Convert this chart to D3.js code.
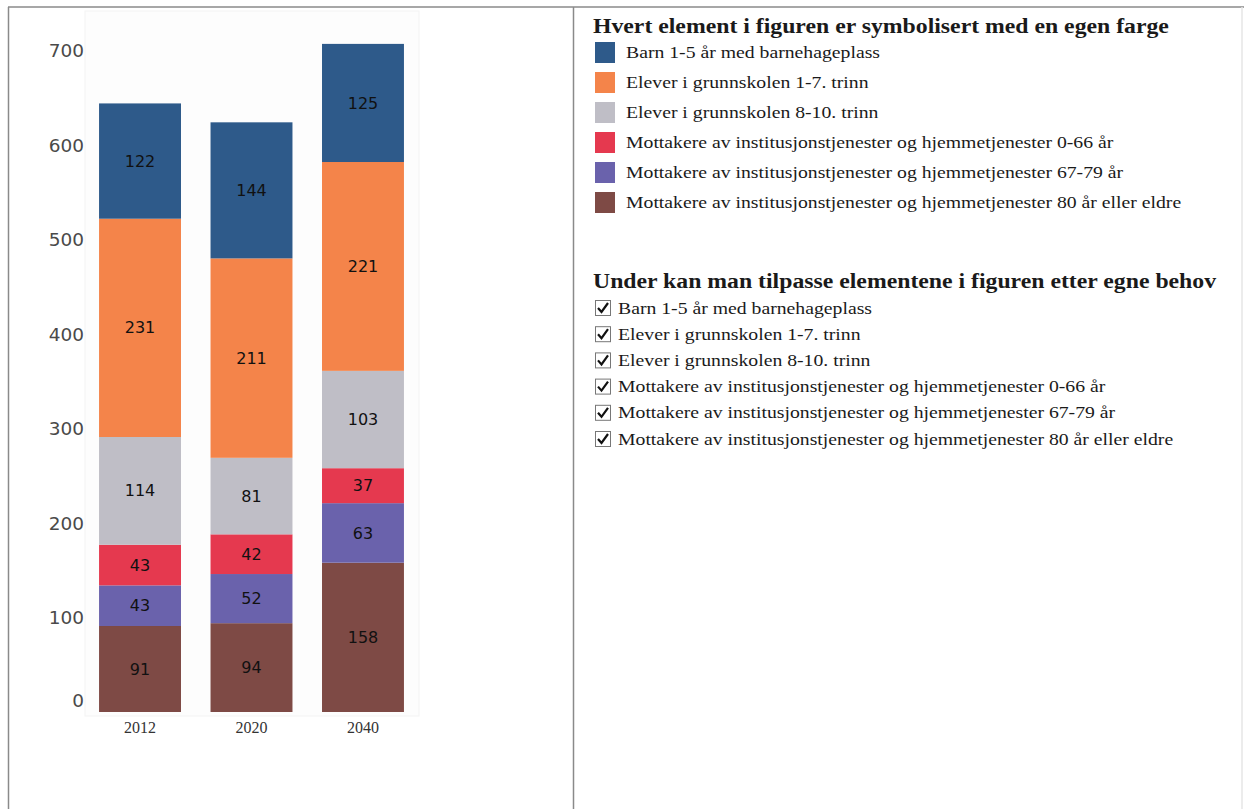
<!DOCTYPE html>
<html>
<head>
<meta charset="utf-8">
<script src="https://cdn.jsdelivr.net/npm/d3@7"></script>
<style>
  body { margin: 0; background: #fff; }
  svg { display: block; }
</style>
</head>
<body>
<svg id="chart" width="1244" height="809"></svg>
<script>
// data
const years = ["2012", "2020", "2040"];
const seriesNames = [
  "Barn 1-5 år med barnehageplass",
  "Elever i grunnskolen 1-7. trinn",
  "Elever i grunnskolen 8-10. trinn",
  "Mottakere av institusjonstjenester og hjemmetjenester 0-66 år",
  "Mottakere av institusjonstjenester og hjemmetjenester 67-79 år",
  "Mottakere av institusjonstjenester og hjemmetjenester 80 år eller eldre"
];
const barn = [122, 144, 125];
const trinn1_7 = [231, 211, 221];
const trinn8_10 = [114, 81, 103];
const mott0_66 = [43, 42, 37];
const mott67_79 = [43, 52, 63];
const mott80 = [91, 94, 158];
const yTicks = [0, 100, 200, 300, 400, 500, 600, 700];
const colors = ["#2e5a8a", "#f4844a", "#bfbec6", "#e5394f", "#6a62ac", "#7e4a45"];

const legendTitle = "Hvert element i figuren er symbolisert med en egen farge";
const checkTitle = "Under kan man tilpasse elementene i figuren etter egne behov";

const allValues = [barn, trinn1_7, trinn8_10, mott0_66, mott67_79, mott80];

// table for d3.stack
const table = years.map((y, i) => {
  const row = { year: y };
  seriesNames.forEach((s, j) => { row[s] = allValues[j][i]; });
  return row;
});

const svg = d3.select('svg#chart');

// frame lines
const frame = svg.append('g')
  .attr('stroke', '#8a8a8a')
  .attr('stroke-width', 1.5)
  .attr('fill', 'none');
frame.append('line').attr('x1', 8).attr('x2', 1244).attr('y1', 7).attr('y2', 7);
frame.append('line').attr('x1', 8.5).attr('x2', 8.5).attr('y1', 7).attr('y2', 809);
frame.append('line').attr('x1', 573.5).attr('x2', 573.5).attr('y1', 7).attr('y2', 809);
frame.append('line').attr('x1', 1242).attr('x2', 1242).attr('y1', 7).attr('y2', 809)
  .attr('stroke', '#e6e6e6');

// faint plot background
svg.append('rect')
  .attr('x', 85).attr('y', 11)
  .attr('width', 334).attr('height', 705)
  .attr('fill', '#fdfdfd')
  .attr('stroke', '#f3f3f3');

const y = d3.scaleLinear()
  .domain([0, 700])
  .range([712, 50.5]);

const x = d3.scaleBand()
  .domain(years)
  .range([84, 419])
  .paddingInner(0.265)
  .paddingOuter(0.135);

// y axis, no line, labels only
const gY = svg.append('g')
  .attr('transform', 'translate(84,0)')
  .call(d3.axisLeft(y).tickValues(yTicks).tickSize(0).tickPadding(0));
gY.select('.domain').remove();
gY.selectAll('text')
  .attr('font-family', '"DejaVu Sans", Verdana, sans-serif')
  .attr('font-size', 18.5)
  .attr('fill', '#4a4a4a')
  .attr('dy', '0.35em');
// the zero label sits a little above the baseline in the original
gY.selectAll('.tick').filter(d => d === 0).select('text').attr('dy', '-0.3em');

// stacked bars
const stack = d3.stack().keys(seriesNames.slice().reverse());
const layers = stack(table);
const colorOf = d3.scaleOrdinal().domain(seriesNames).range(colors);

const gBars = svg.append('g');
const layerG = gBars.selectAll('g.layer')
  .data(layers)
  .enter()
  .append('g')
    .attr('class', 'layer')
    .attr('fill', d => colorOf(d.key));

layerG.selectAll('rect')
  .data(d => d)
  .enter()
  .append('rect')
    .attr('x', d => x(d.data.year))
    .attr('y', d => y(d[1]))
    .attr('width', x.bandwidth())
    .attr('height', d => y(d[0]) - y(d[1]));

layerG.selectAll('text')
  .data(d => d)
  .enter()
  .append('text')
    .attr('x', d => x(d.data.year) + x.bandwidth() / 2)
    .attr('y', d => (y(d[0]) + y(d[1])) / 2)
    .attr('dy', '0.35em')
    .attr('text-anchor', 'middle')
    .attr('font-family', '"DejaVu Sans", Verdana, sans-serif')
    .attr('font-size', 16)
    .attr('fill', '#111')
    .text(d => d[1] - d[0]);

// x axis labels
const gX = svg.append('g')
  .attr('transform', 'translate(0,712)')
  .call(d3.axisBottom(x).tickSize(0).tickPadding(10));
gX.select('.domain').remove();
gX.selectAll('text')
  .attr('font-family', '"Liberation Serif", "Times New Roman", serif')
  .attr('font-size', 16)
  .attr('fill', '#333');

// the legend text in the original is a bit stretched sideways
const serif = '"Liberation Serif", "Times New Roman", serif';
const stretch = 1.16;

// colour legend
svg.append('text')
  .attr('transform', 'translate(593,33) scale(1.08,1)')
  .attr('font-family', serif)
  .attr('font-weight', 'bold')
  .attr('font-size', 22)
  .attr('fill', '#1a1a1a')
  .text(legendTitle);

const legend = svg.append('g');
const items = legend.selectAll('g')
  .data(seriesNames)
  .enter()
  .append('g')
    .attr('transform', (d, i) => `translate(595, ${42 + i * 30})`);
items.append('rect')
  .attr('width', 20).attr('height', 21)
  .attr('fill', d => colorOf(d));
items.append('text')
  .attr('transform', `translate(31,16) scale(${stretch},1)`)
  .attr('font-family', serif)
  .attr('font-size', 17)
  .attr('fill', '#1a1a1a')
  .text(d => d);

// checkbox list
svg.append('text')
  .attr('transform', 'translate(593,288) scale(1.08,1)')
  .attr('font-family', serif)
  .attr('font-weight', 'bold')
  .attr('font-size', 22)
  .attr('fill', '#1a1a1a')
  .text(checkTitle);

const checks = svg.append('g').selectAll('g')
  .data(seriesNames)
  .enter()
  .append('g')
    .attr('transform', (d, i) => `translate(595, ${300 + i * 26.2})`);
checks.append('rect')
  .attr('x', 0.5).attr('y', 0.5)
  .attr('width', 15).attr('height', 15)
  .attr('fill', '#fff')
  .attr('stroke', '#777');
checks.append('path')
  .attr('d', 'M3,8 L6.5,12 L13,3')
  .attr('fill', 'none')
  .attr('stroke', '#111')
  .attr('stroke-width', 2.2);
checks.append('text')
  .attr('transform', `translate(23,13.5) scale(${stretch},1)`)
  .attr('font-family', serif)
  .attr('font-size', 17)
  .attr('fill', '#1a1a1a')
  .text(d => d);
</script>
</body>
</html>
